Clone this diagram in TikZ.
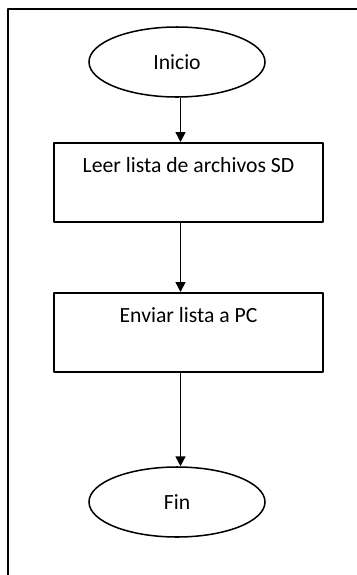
\documentclass[tikz,border=0pt]{standalone}
\usepackage{fontspec}
\setmainfont{Carlito}
\usetikzlibrary{shapes.geometric,arrows.meta}
\tikzset{
  terminal/.style={draw, ellipse, line width=1.3pt, minimum width=5.28cm, minimum height=2.1cm, inner sep=0pt},
  proceso/.style={draw, rectangle, line width=1.3pt, minimum width=8.07cm, anchor=north, inner ysep=3pt, text height=22pt, text depth=39.5pt},
  flecha/.style={-{Triangle[length=8.5pt, width=8.5pt]}, line width=1.3pt}
}
\begin{document}
\begin{tikzpicture}[x=0.03cm, y=-0.03cm, font=\fontsize{18.5}{22}\selectfont, line join=round]
  \useasboundingbox (0,0) rectangle (357,575);
  % 1. Marco exterior
  \draw[line width=1.9pt] (8,575) -- (8,9) -- (357,9);

  % 2. Nodos del diagrama
  \node[terminal] (inicio) at (177,62) {Inicio};
  \node[proceso] (leer) at (188.5,142) {Leer lista de archivos SD};
  \node[proceso] (enviar) at (188.5,292) {Enviar lista a PC};
  \node[terminal] (fin) at (177,502) {Fin};

  % 3. Flechas
  \draw[flecha] ([xshift=3]inicio.south) -- ([xshift=3]inicio.south |- leer.north);
  \draw[flecha] ([xshift=3]inicio |- leer.south) -- ([xshift=3]inicio |- enviar.north);
  \draw[flecha] ([xshift=3]inicio |- enviar.south) -- ([xshift=3]fin.north);
\end{tikzpicture}
\end{document}
